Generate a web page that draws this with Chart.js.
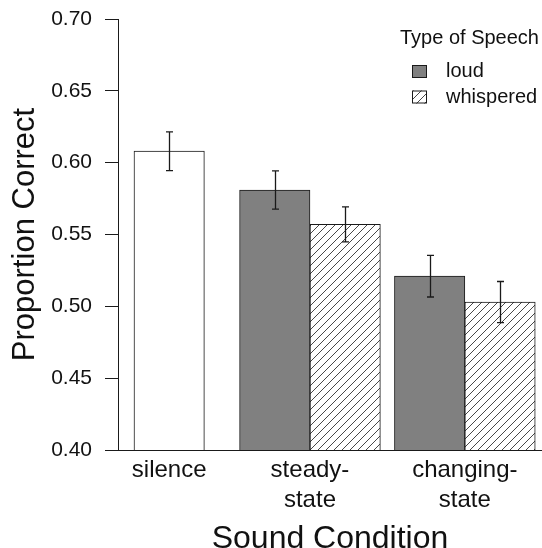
<!DOCTYPE html>
<html>
<head>
<meta charset="utf-8">
<title>Proportion Correct by Sound Condition</title>
<script src="https://cdn.jsdelivr.net/npm/chart.js@4.4.1/dist/chart.umd.min.js"></script>
<style>
  html, body { margin: 0; padding: 0; background: #ffffff; }
  #chart { display: block; }
</style>
</head>
<body>
<canvas id="chart" width="542" height="548"></canvas>
<script>
// ---- data -------------------------------------------------------------
const conditionLabels = ['silence', ['steady-', 'state'], ['changing-', 'state']];
const speechTypes = ['loud', 'whispered'];
const legendTitle = 'Type of Speech';

const silenceMean = [0.608];
const silenceSE = [0.0135];
const loudMean = [0.581, 0.521];        // steady-state, changing-state
const loudSE = [0.0133, 0.0145];
const whisperedMean = [0.557, 0.503];   // steady-state, changing-state
const whisperedSE = [0.0122, 0.0143];

const yTicks = [0.40, 0.45, 0.50, 0.55, 0.60, 0.65, 0.70];

// ---- bar layout (bar width = 1 unit on the x scale) ------------------
const leadSpace = 0.2, afterSilence = 0.5, betweenGroups = 0.2;
const silenceX = leadSpace + 0.5;
const steadyStart = leadSpace + 1 + afterSilence;
const changingStart = steadyStart + 2 + betweenGroups;
const loudX = [steadyStart + 0.5, changingStart + 0.5];
const whisperedX = [steadyStart + 1.5, changingStart + 1.5];
const groupCenters = [silenceX, steadyStart + 1, changingStart + 1];

// ---- styles ------------------------------------------------------------
const FONT = '"Liberation Sans", Arial, Helvetica, sans-serif';
const INK = '#1a1a1a';
const LOUD_FILL = '#808080';

function makeHatch() {
  const s = 8;
  const tile = document.createElement('canvas');
  tile.width = s; tile.height = s;
  const t = tile.getContext('2d');
  t.fillStyle = '#ffffff';
  t.fillRect(0, 0, s, s);
  t.strokeStyle = '#333333';
  t.lineWidth = 0.9;
  t.beginPath();
  t.moveTo(-1, s + 1); t.lineTo(s + 1, -1);
  t.moveTo(-1, 1); t.lineTo(1, -1);
  t.moveTo(s - 1, s + 1); t.lineTo(s + 1, s - 1);
  t.stroke();
  return document.getElementById('chart').getContext('2d').createPattern(tile, 'repeat');
}
const hatch = makeHatch();

const toPoints = (xs, ys) => ys.map((y, i) => ({ x: xs[i], y }));

const barCommon = {
  grouped: false,
  categoryPercentage: 1,
  barPercentage: 1,
  borderColor: INK,
  borderWidth: 1,
  borderSkipped: false
};

// keep the plot area exactly where the axes put it
function noEdgePadding(scale) {
  scale.paddingTop = 0; scale.paddingBottom = 0;
  scale.paddingLeft = 0; scale.paddingRight = 0;
}

// ---- error bars ---------------------------------------------------------
const errorBarPlugin = {
  id: 'errorBars',
  afterDatasetsDraw(chart) {
    const ctx = chart.ctx;
    const yScale = chart.scales.y;
    ctx.save();
    ctx.strokeStyle = INK;
    ctx.lineWidth = 1.3;
    chart.data.datasets.forEach((ds, di) => {
      const meta = chart.getDatasetMeta(di);
      meta.data.forEach((bar, i) => {
        const m = ds.data[i].y, e = ds.errors[i];
        const yHi = yScale.getPixelForValue(m + e);
        const yLo = yScale.getPixelForValue(m - e);
        const x = Math.round(bar.x) + 0.5;
        ctx.beginPath();
        ctx.moveTo(x, yHi); ctx.lineTo(x, yLo);
        ctx.moveTo(x - 3.5, yHi); ctx.lineTo(x + 3.5, yHi);
        ctx.moveTo(x - 3.5, yLo); ctx.lineTo(x + 3.5, yLo);
        ctx.stroke();
      });
    });
    ctx.restore();
  }
};

// ---- legend -------------------------------------------------------------
const speechLegend = {
  id: 'speechLegend',
  afterDraw(chart) {
    const ctx = chart.ctx;
    ctx.save();
    ctx.font = '20px ' + FONT;
    ctx.fillStyle = '#111111';
    ctx.textBaseline = 'middle';
    ctx.textAlign = 'left';
    ctx.fillText(legendTitle, 400, 38);
    const entries = chart.data.datasets.filter(d => speechTypes.includes(d.label));
    entries.forEach((ds, i) => {
      const cy = 71.5 + i * 25.5;
      ctx.fillStyle = ds.backgroundColor;
      ctx.fillRect(412, cy - 6.5, 15, 13);
      ctx.strokeStyle = INK;
      ctx.lineWidth = 1;
      ctx.strokeRect(412.5, cy - 6, 14, 12);
      ctx.fillStyle = '#111111';
      ctx.fillText(ds.label, 446, cy);
    });
    ctx.restore();
  }
};

new Chart(document.getElementById('chart'), {
  type: 'bar',
  data: {
    datasets: [
      Object.assign({ label: 'silence', data: toPoints([silenceX], silenceMean), errors: silenceSE,
        backgroundColor: '#ffffff' }, barCommon),
      Object.assign({ label: speechTypes[0], data: toPoints(loudX, loudMean), errors: loudSE,
        backgroundColor: LOUD_FILL }, barCommon),
      Object.assign({ label: speechTypes[1], data: toPoints(whisperedX, whisperedMean), errors: whisperedSE,
        backgroundColor: hatch }, barCommon)
    ]
  },
  options: {
    responsive: false,
    animation: false,
    devicePixelRatio: 1,
    layout: { padding: { top: 19, left: 0, right: 0, bottom: 0 } },
    plugins: { legend: { display: false }, tooltip: { enabled: false } },
    scales: {
      x: {
        type: 'linear',
        min: -0.027,
        max: 5.996,
        offset: false,
        grid: { display: false, drawTicks: false, tickLength: 0, offset: false },
        border: { display: true, color: INK, width: 1 },
        afterBuildTicks(scale) { scale.ticks = groupCenters.map(v => ({ value: v })); },
        afterFit(scale) { scale.height = 98; noEdgePadding(scale); },
        ticks: {
          autoSkip: false,
          maxRotation: 0,
          padding: 5,
          color: '#111111',
          font: { family: FONT, size: 24, lineHeight: 1.25 },
          callback: (v, i) => conditionLabels[i]
        },
        title: {
          display: true,
          text: 'Sound Condition',
          color: '#111111',
          font: { family: FONT, size: 32, lineHeight: 0.8 },
          padding: { top: 0, bottom: -4 }
        }
      },
      y: {
        min: yTicks[0],
        max: yTicks[yTicks.length - 1],
        afterBuildTicks(scale) { scale.ticks = yTicks.map(v => ({ value: v })); },
        afterFit(scale) { scale.width = 118; noEdgePadding(scale); },
        grid: { display: true, drawOnChartArea: false, drawTicks: true, tickLength: 13, color: INK, lineWidth: 1 },
        border: { display: true, color: INK, width: 1 },
        ticks: {
          padding: 13,
          color: '#111111',
          font: { family: FONT, size: 21 },
          callback: v => v.toFixed(2)
        },
        title: {
          display: true,
          text: 'Proportion Correct',
          color: '#111111',
          font: { family: FONT, size: 31, lineHeight: 1.2 },
          padding: { top: 7, bottom: 0 }
        }
      }
    }
  },
  plugins: [errorBarPlugin, speechLegend]
});
</script>
</body>
</html>
